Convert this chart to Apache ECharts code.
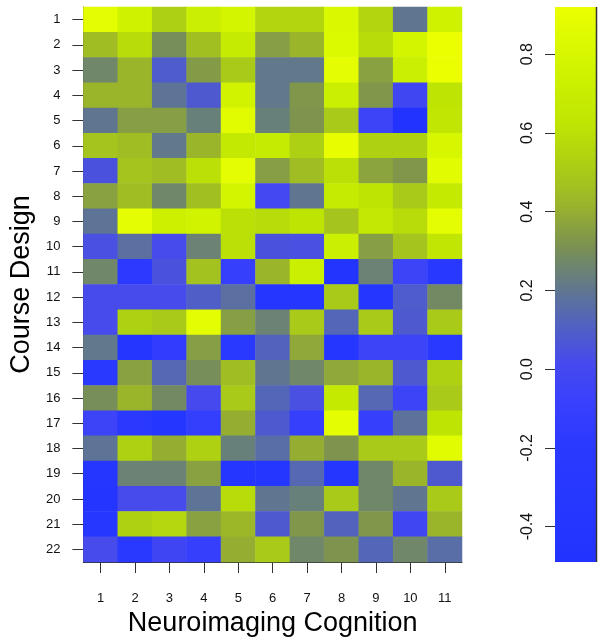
<!DOCTYPE html>
<html>
<head>
<meta charset="utf-8">
<script src="https://cdn.jsdelivr.net/npm/echarts@6/dist/echarts.min.js"></script>
<style>
html,body{margin:0;padding:0;background:#fff;}
#chart{width:600px;height:642px;}
</style>
</head>
<body>
<div id="chart"></div>
<script>
// Column categories (x) and row categories (y)
const neuroCognition = ['1','2','3','4','5','6','7','8','9','10','11'];
const courseDesign = ['1','2','3','4','5','6','7','8','9','10','11','12','13','14','15','16','17','18','19','20','21','22'];

// Correlation values, one row per Course Design item (row 1 at top)
const values = [
  [0.88, 0.75, 0.52, 0.72, 0.78, 0.55, 0.55, 0.82, 0.55, 0.20, 0.75],
  [0.45, 0.58, 0.30, 0.46, 0.68, 0.35, 0.42, 0.83, 0.58, 0.78, 0.92],
  [0.27, 0.42, 0.09, 0.34, 0.50, 0.21, 0.21, 0.88, 0.36, 0.72, 0.92],
  [0.42, 0.42, 0.19, 0.08, 0.76, 0.21, 0.33, 0.72, 0.33, -0.02, 0.62],
  [0.20, 0.35, 0.35, 0.24, 0.86, 0.24, 0.32, 0.50, -0.05, -0.48, 0.64],
  [0.48, 0.45, 0.21, 0.42, 0.66, 0.68, 0.52, 0.90, 0.53, 0.53, 0.80],
  [0.05, 0.48, 0.45, 0.60, 0.88, 0.35, 0.45, 0.60, 0.37, 0.33, 0.86],
  [0.36, 0.45, 0.27, 0.46, 0.78, 0.00, 0.20, 0.68, 0.62, 0.50, 0.67],
  [0.19, 0.88, 0.73, 0.76, 0.60, 0.58, 0.62, 0.48, 0.65, 0.58, 0.88],
  [0.04, 0.17, 0.02, 0.25, 0.60, 0.05, 0.04, 0.72, 0.35, 0.48, 0.64],
  [0.27, -0.20, 0.05, 0.47, -0.10, 0.42, 0.72, -0.45, 0.25, -0.05, -0.30],
  [0.02, 0.02, 0.02, 0.10, 0.17, -0.40, -0.40, 0.50, -0.38, 0.09, 0.28],
  [0.02, 0.53, 0.50, 0.88, 0.35, 0.25, 0.50, 0.13, 0.50, 0.08, 0.50],
  [0.21, -0.40, -0.15, 0.35, -0.25, 0.12, 0.38, -0.40, -0.05, -0.05, -0.25],
  [-0.25, 0.36, 0.14, 0.30, 0.45, 0.20, 0.27, 0.38, 0.42, 0.08, 0.53],
  [0.30, 0.42, 0.28, 0.01, 0.50, 0.13, 0.04, 0.67, 0.14, -0.05, 0.50],
  [-0.05, -0.22, -0.38, -0.12, 0.40, 0.08, -0.10, 0.88, -0.10, 0.18, 0.62],
  [0.19, 0.53, 0.40, 0.53, 0.24, 0.16, 0.40, 0.32, 0.50, 0.50, 0.86],
  [-0.40, 0.25, 0.25, 0.36, -0.38, -0.38, 0.14, -0.40, 0.27, 0.42, 0.08],
  [-0.42, 0.02, 0.02, 0.19, 0.58, 0.20, 0.24, 0.50, 0.27, 0.20, 0.50],
  [-0.35, 0.53, 0.56, 0.36, 0.43, 0.08, 0.33, 0.12, 0.33, -0.02, 0.42],
  [0.02, -0.25, -0.03, -0.10, 0.40, 0.50, 0.27, 0.32, 0.13, 0.27, 0.16]
];

// Colour scale
const scaleMin = -0.49;
const scaleMax = 0.92;
const scaleColors = ['#2233ff','#2536ff','#2838ff','#2c3aff','#3840fc','#4649ee','#5262c0','#627a88','#7c9250','#9ab42c','#acce14','#bee404','#cbef00','#d9f900','#ecff00'];
const colorbarTicks = [-0.4, -0.2, 0.0, 0.2, 0.4, 0.6, 0.8];

const heatData = [];
values.forEach((row, r) => row.forEach((v, c) => heatData.push([c, r, v])));

const FONT = '"Liberation Sans", Arial, sans-serif';
const chart = echarts.init(document.getElementById('chart'), null, {renderer: 'canvas'});

const gradStops = scaleColors.map((c, i) => ({offset: 1 - i / (scaleColors.length - 1), color: c}));

chart.setOption({
  animation: false,
  backgroundColor: '#ffffff',
  grid: [
    {left: 73, top: 7, width: 389, height: 555},
    {left: 555, top: 7, width: 42, height: 555}
  ],
  xAxis: [
    {
      gridIndex: 0, type: 'category', data: neuroCognition, position: 'bottom',
      axisLine: {show: true, lineStyle: {color: '#333', width: 1}},
      axisTick: {show: true, alignWithLabel: true, length: 11, lineStyle: {color: '#333'}},
      axisLabel: {fontFamily: FONT, fontSize: 13, color: '#111', margin: 30},
      splitLine: {show: false},
      name: 'Neuroimaging Cognition', nameLocation: 'middle', nameGap: 43,
      nameTextStyle: {fontFamily: FONT, fontSize: 27, color: '#000'}
    },
    {gridIndex: 1, type: 'value', min: 0, max: 1, show: false}
  ],
  yAxis: [
    {
      gridIndex: 0, type: 'category', data: courseDesign, inverse: true,
      axisLine: {show: true, lineStyle: {color: '#333', width: 1}},
      axisTick: {show: true, alignWithLabel: true, length: 11, lineStyle: {color: '#333'}},
      axisLabel: {fontFamily: FONT, fontSize: 13, color: '#111', margin: 23},
      splitLine: {show: false},
      name: 'Course Design', nameLocation: 'middle', nameGap: 40,
      nameTextStyle: {fontFamily: FONT, fontSize: 27, color: '#000'}
    },
    {
      gridIndex: 1, type: 'value', min: scaleMin, max: scaleMax, position: 'left',
      axisLine: {show: false},
      axisTick: {show: true, length: 10, customValues: colorbarTicks, lineStyle: {color: '#333'}},
      axisLabel: {show: true, customValues: colorbarTicks, rotate: 90, fontFamily: FONT, fontSize: 16, color: '#111', margin: 19,
        formatter: v => Number(v).toFixed(1)},
      splitLine: {show: false}
    }
  ],
  visualMap: {
    type: 'continuous', show: false, min: scaleMin, max: scaleMax, dimension: 2,
    seriesIndex: 0, inRange: {color: scaleColors}
  },
  series: [
    {
      type: 'heatmap', xAxisIndex: 0, yAxisIndex: 0, data: heatData,
      itemStyle: {borderWidth: 0}, emphasis: {disabled: true}
    },
    {
      type: 'custom', xAxisIndex: 1, yAxisIndex: 1, data: [[0, scaleMin, 1, scaleMax]],
      renderItem: function (params, api) {
        const p0 = api.coord([api.value(0), api.value(3)]);
        const p1 = api.coord([api.value(2), api.value(1)]);
        return {
          type: 'group',
          children: [
            {type: 'rect', shape: {x: p0[0], y: p0[1], width: p1[0] - p0[0], height: p1[1] - p0[1]},
              style: {fill: new echarts.graphic.LinearGradient(0, 0, 0, 1, gradStops)}},
            {type: 'line', shape: {x1: p1[0] - 0.5, y1: p0[1], x2: p1[0] - 0.5, y2: p1[1]},
              style: {stroke: '#333', lineWidth: 1.5}}
          ]
        };
      }
    }
  ]
});
</script>
</body>
</html>
